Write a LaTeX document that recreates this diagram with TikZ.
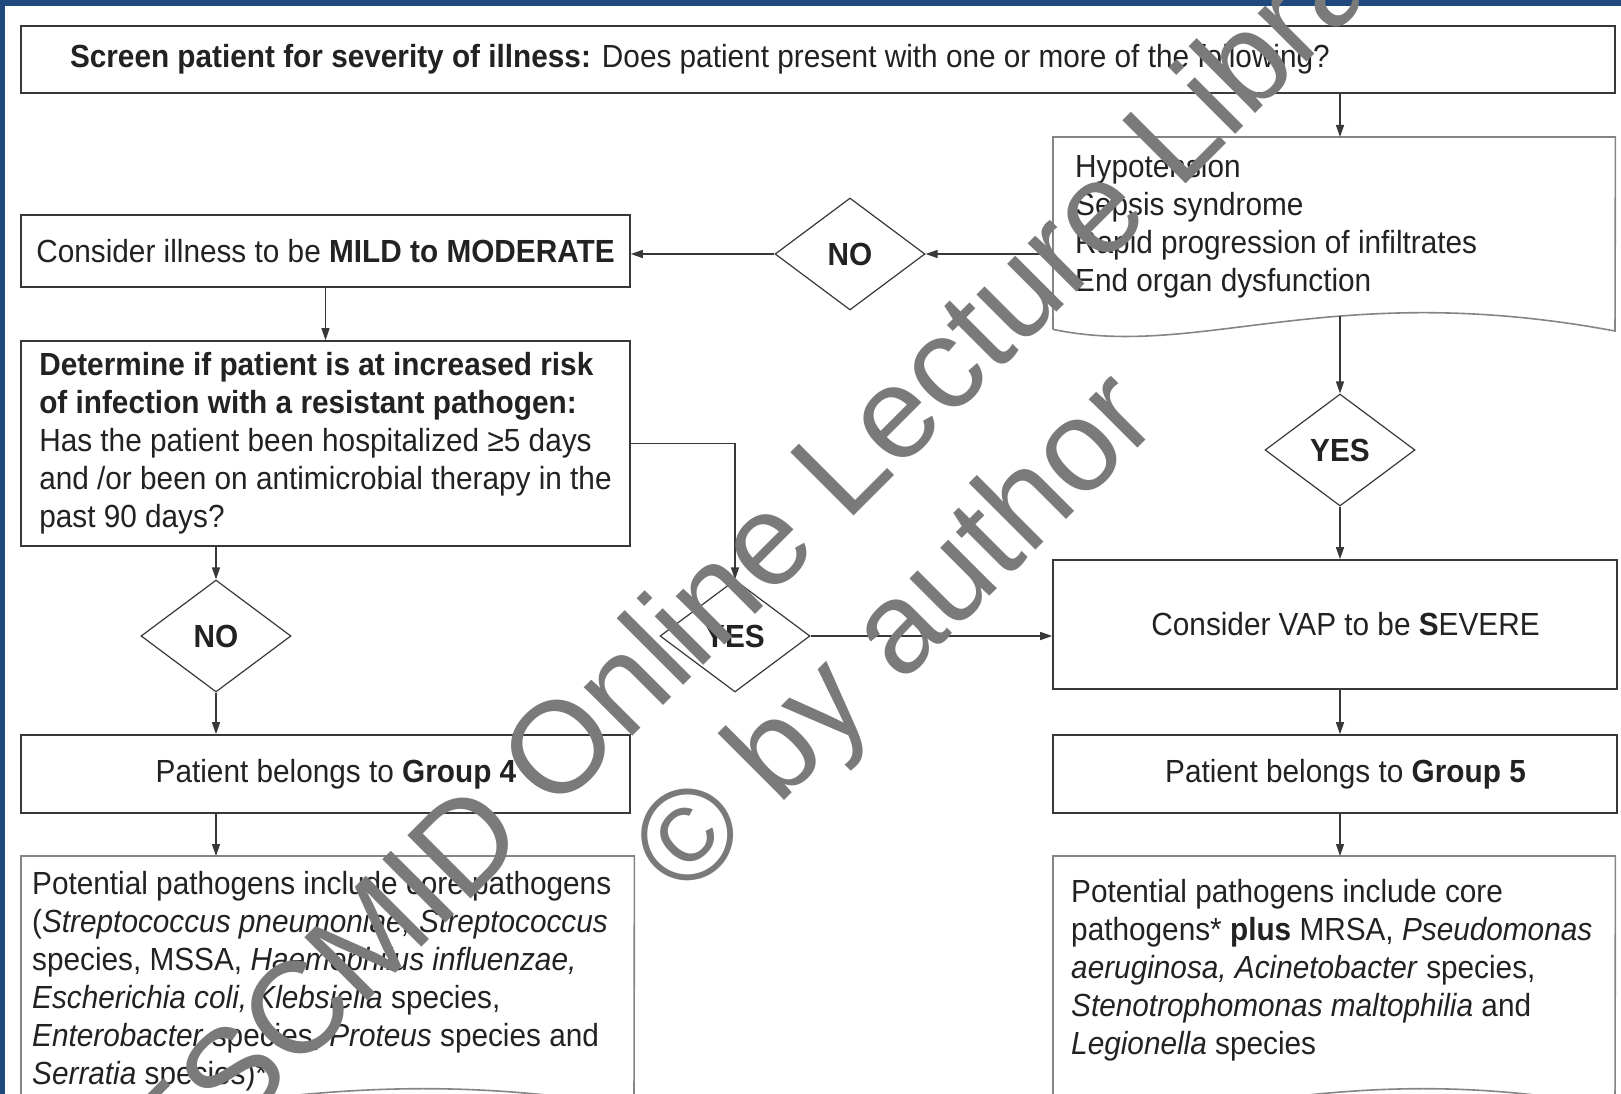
\documentclass[tikz,border=0pt]{standalone}
\usepackage{fontspec}
\usepackage{tikz}
\setmainfont{Liberation Sans}[FakeStretch=0.93]
\newfontfamily\markfont{Liberation Sans}
\usetikzlibrary{shapes.geometric,arrows.meta}
\definecolor{frameblue}{HTML}{1F497D}
\definecolor{boxline}{HTML}{383838}
\definecolor{docline}{HTML}{858585}
\definecolor{textdark}{HTML}{222222}
\definecolor{markgray}{HTML}{7A7A7A}

\begin{document}
\begin{tikzpicture}[x=1pt,y=-1pt,
  font=\fontsize{32}{38}\selectfont,text=textdark,
  >={Triangle[length=12pt,width=8pt]},
  flowbox/.style={draw=boxline,line width=1.6pt,minimum width=609pt,inner sep=0pt},
  offright/.style={execute at begin node=\hspace*{21pt}},
  decision/.style={diamond,draw=boxline,line width=1.2pt,minimum width=150pt,minimum height=112pt,inner sep=0pt,font=\fontsize{32}{38}\selectfont\bfseries},
  docarea/.style={inner sep=0pt,anchor=north west},
  doctext/.style={inner sep=0pt,anchor=north west,align=left},
  docedge/.style={draw=docline,line width=1.6pt},
  flow/.style={->,draw=boxline,line width=1.3pt},
  watermark/.style={rotate=45,align=center,text=markgray,font=\markfont\fontsize{130}{153}\selectfont}]
\useasboundingbox (0,0) rectangle (1621,1094);
\clip (0,0) rectangle (1621,1094);
\fill[white] (0,0) rectangle (1621,1094);
\fill[frameblue] (0,0) rectangle (1621,6);
\fill[frameblue] (0,0) rectangle (5,1094);

\node[flowbox,minimum width=1594pt,minimum height=67pt,text width=1496pt,align=justify] (screen) at (818,59.5) {\textbf{Screen patient for severity of illness:} Does patient present with one or more of the following?};

\node[docarea,minimum width=562pt,minimum height=192pt] (signs) at (1053,137) {};
\node[doctext] (signlist) at (1075,154) {Hypotension\\Sepsis syndrome\\Rapid progression of infiltrates\\End organ dysfunction};
\draw[docedge] (signs.south west) -- (signs.north west) -- (signs.north east) -- (1615,331) .. controls (1330,278) and (1200,360) .. (signs.south west);
\coordinate (signsout) at (1340,316);

\node[decision] (no1) at (850,254) {NO};
\node[flowbox,minimum height=72pt] (mild) at (325.5,251) {Consider illness to be \textbf{MILD to MODERATE}};
\node[flowbox,minimum height=205pt,align=left] (risk) at (325.5,443.5) {\textbf{Determine if patient is at increased risk}\\\textbf{of infection with a resistant pathogen:}\\Has the patient been hospitalized ≥5 days\\and /or been on antimicrobial therapy in the\\past 90 days?};
\node[decision] (yes1) at (735,636) {YES};
\node[decision] (no2) at (216,636) {NO};
\node[flowbox,offright,minimum height=78pt] (grp4) at (325.5,774) {Patient belongs to \textbf{Group 4}};

\node[docarea,minimum width=613pt,minimum height=249pt] (path4) at (21,856) {};
\node[doctext] (path4txt) at (32,871) {Potential pathogens include core pathogens\\(\textit{Streptococcus pneumoniae, Streptococcus}\\species, MSSA, \textit{Haemophilus influenzae,}\\\textit{Escherichia coli, Klebsiella} species,\\\textit{Enterobacter} species, \textit{Proteus} species and\\\textit{Serratia} species)*};
\draw[docedge] (path4.south west) -- (path4.north west) -- (path4.north east) -- (634,1107) .. controls (321,1054) and (180,1136) .. (path4.south west);

\node[decision] (yes2) at (1340,450) {YES};
\node[flowbox,offright,minimum width=564pt,minimum height=129pt] (severe) at (1335,624.5) {Consider VAP to be \textbf{S}EVERE};
\node[flowbox,offright,minimum width=564pt,minimum height=78pt] (grp5) at (1335,774) {Patient belongs to \textbf{Group 5}};

\node[docarea,minimum width=562pt,minimum height=249pt] (path5) at (1053,856) {};
\node[doctext] (path5txt) at (1071,879) {Potential pathogens include core\\pathogens* \textbf{plus} MRSA, \textit{Pseudomonas}\\\textit{aeruginosa, Acinetobacter} species,\\\textit{Stenotrophomonas maltophilia} and\\\textit{Legionella} species};
\draw[docedge] (path5.south west) -- (path5.north west) -- (path5.north east) -- (1615,1107) .. controls (1330,1054) and (1200,1136) .. (path5.south west);

\draw[flow] (screen.south -| yes2) -- (signs.north -| yes2);
\draw[flow] (signs.west |- no1) -- (no1.east);
\draw[flow] (no1.west) -- (no1.west -| mild.east);
\draw[flow] (mild.south) -- (risk.north);
\draw[flow] (risk.east) -| (yes1.north);
\draw[flow] (yes1.east) -- (yes1.east -| severe.west);
\draw[flow] (risk.south -| no2) -- (no2.north);
\draw[flow] (no2.south) -- (grp4.north -| no2);
\draw[flow] (grp4.south -| no2) -- (path4.north -| no2);
\draw[flow] (signsout) -- (yes2.north);
\draw[flow] (yes2.south) -- (severe.north -| yes2);
\draw[flow] (severe.south -| yes2) -- (grp5.north -| yes2);
\draw[flow] (grp5.south -| yes2) -- (path5.north -| yes2);

\node[watermark] (mark) at (846,584) {ESCMID Online Lecture Library\\© by author};
\end{tikzpicture}
\end{document}
